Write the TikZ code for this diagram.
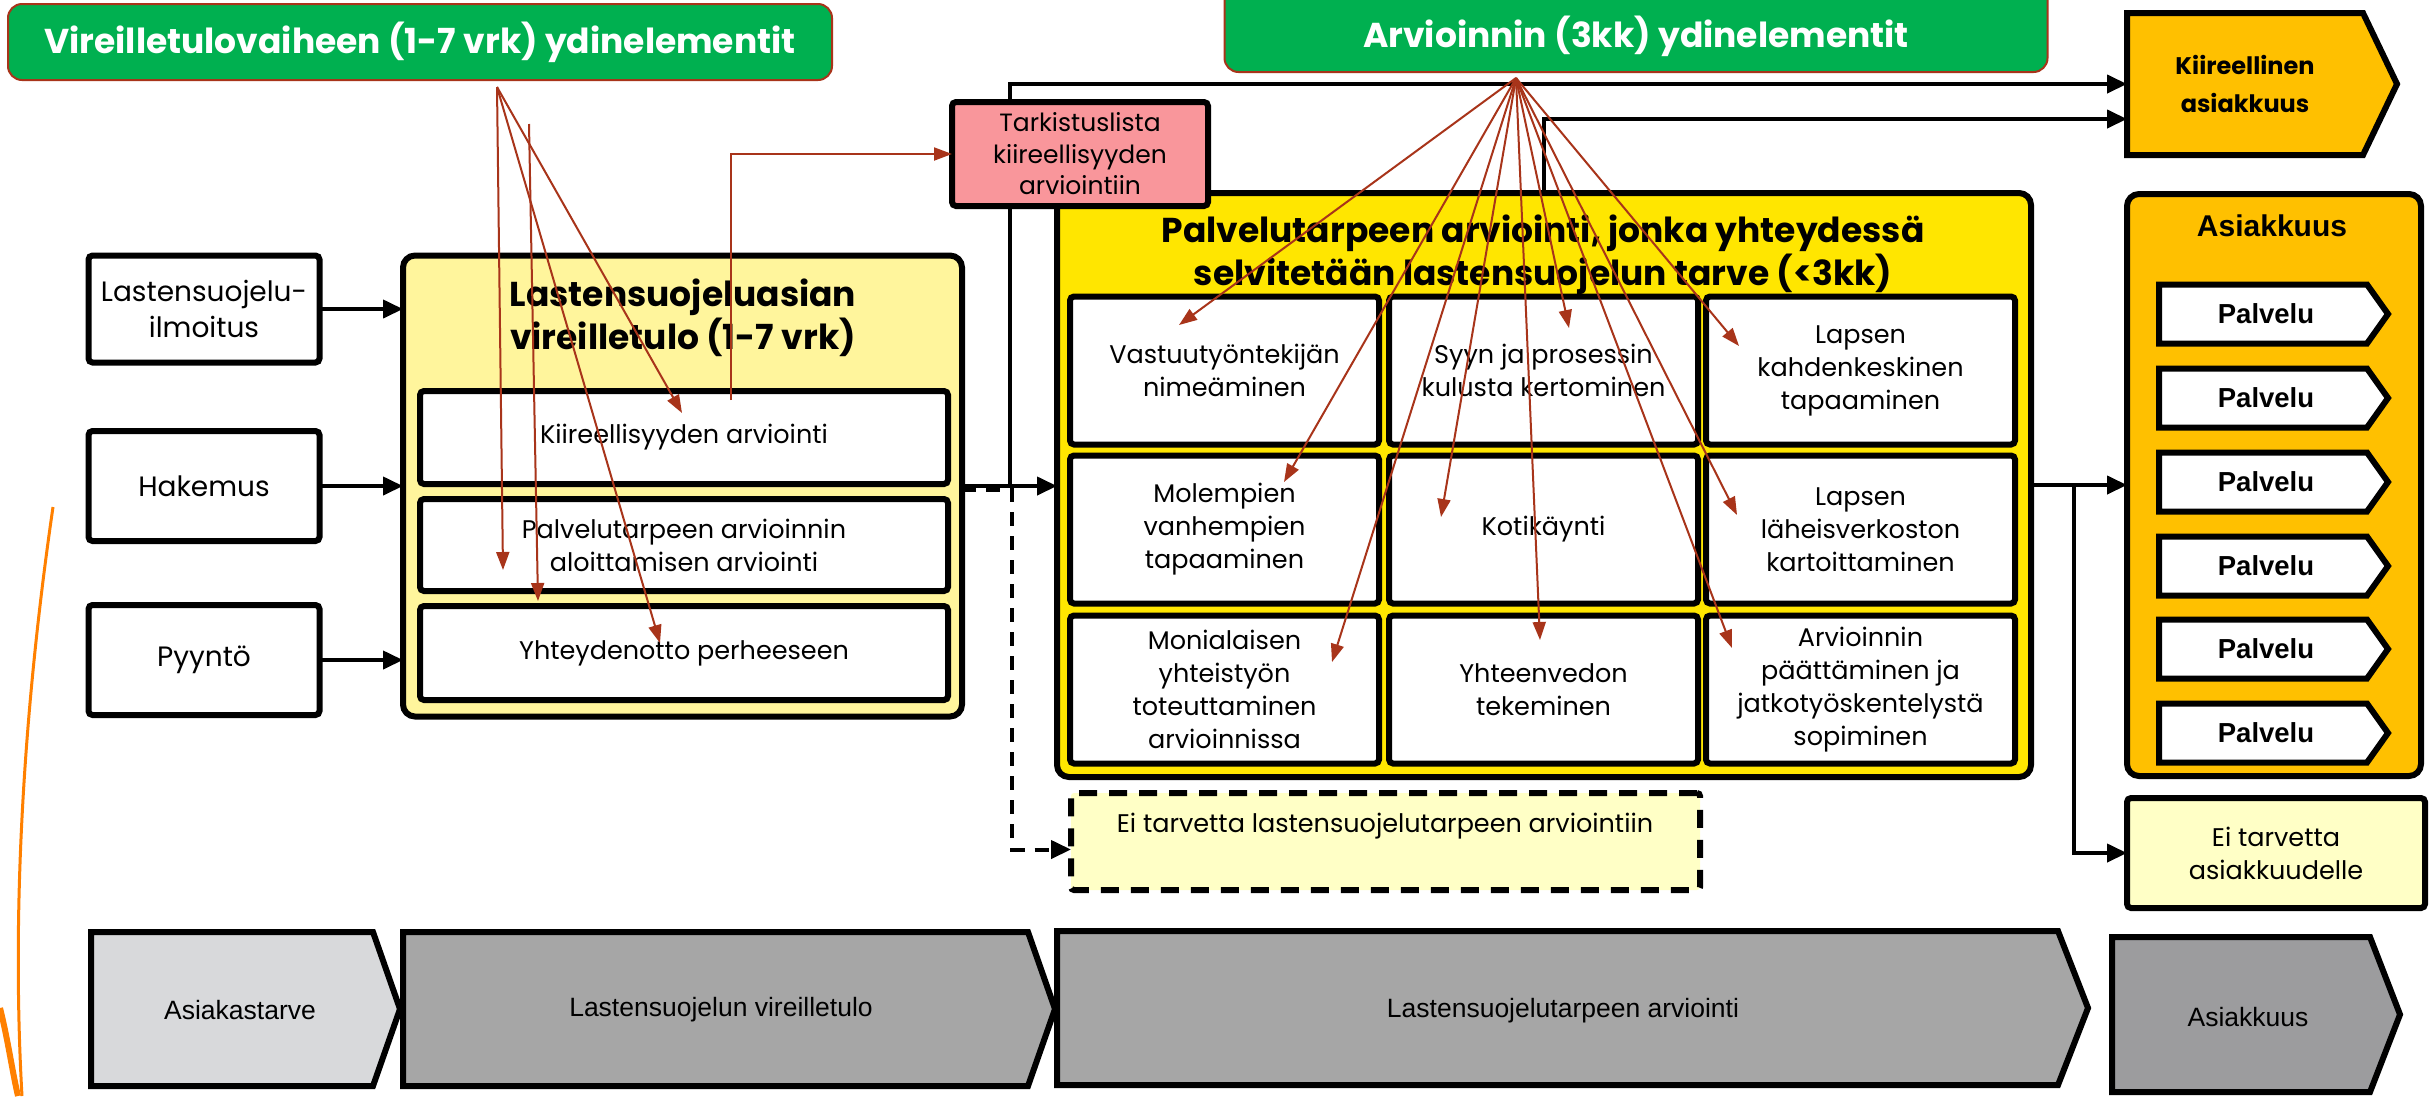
\documentclass[tikz,border=0pt]{standalone}
\usepackage{fontspec}
\setmainfont{Poppins}
\newfontfamily\arialf{Liberation Sans}
\usetikzlibrary{arrows.meta,calc}
\definecolor{grn}{HTML}{00B050}
\definecolor{redc}{RGB}{168,52,26}
\definecolor{pinkc}{HTML}{F9969B}
\definecolor{ltyel}{HTML}{FFF59C}
\definecolor{yel}{HTML}{FFE600}
\definecolor{orng}{HTML}{FFC000}
\definecolor{paleyel}{HTML}{FFFFC6}
\definecolor{gry1}{HTML}{D8D9DB}
\definecolor{gry2}{HTML}{A6A6A6}
\definecolor{gry3}{HTML}{9C9C9E}
\definecolor{orc}{HTML}{FF8000}
\pgfdeclarelayer{bg}\pgfdeclarelayer{fg}\pgfsetlayers{bg,main,fg}
\newcommand{\mypent}[6]{\filldraw[pent,fill=#1] (#2,#5) -- (#3,#5) -- (#4,{(#5+#6)/2}) -- (#3,#6) -- (#2,#6) -- cycle;}
\begin{document}
\begin{tikzpicture}[x=1pt,y=-1pt,
 every node/.style={inner sep=0pt,outer sep=0pt,align=center},
 rg/.style={font=\fontsize{25.5}{33}\selectfont},
 big/.style={font=\fontsize{28}{36}\selectfont},
 bt/.style={font=\fontsize{34.5}{43}\selectfont\bfseries},
 ar/.style={font=\arialf\fontsize{26.5}{30}\selectfont},
 pv/.style={font=\arialf\fontsize{27.5}{30}\selectfont\bfseries},
 bx/.style={draw=black,line width=6pt,rounded corners=4pt,rg},
 hdr/.style={draw=redc,line width=2pt,fill=grn,rounded corners=14pt},
 hdrtxt/.style={text=white,font=\fontsize{34.5}{40}\selectfont\bfseries},
 conn/.style={draw=black,line width=4pt,-{Triangle[length=20pt,width=18pt]}},
 dconn/.style={conn,dash pattern=on 14pt off 10pt},
 rarr/.style={draw=redc,line width=2pt,-{Triangle[length=18pt,width=13pt]}},
 pent/.style={draw=black,line width=6pt,line join=miter},
 cell/.style={bx,fill=white,minimum width=309pt,minimum height=148pt},
]
\useasboundingbox (0,0) rectangle (2432,1096);
\begin{pgfonlayer}{bg}
\fill[white] (0,0) rectangle (2432,1096);
\end{pgfonlayer}

% headers
\node[hdr,minimum width=824pt,minimum height=76pt] (hA) at (420,42) {};
\node[hdrtxt] (hAt) at (420,42) {Vireilletulovaiheen (1-7 vrk) ydinelementit};
\node[hdr,minimum width=823pt,minimum height=96pt] (hB) at (1636,24) {};
\node[hdrtxt] (hBt) at (1636,36) {Arvioinnin (3kk) ydinelementit};

% inputs
\node[bx,big,fill=white,minimum width=231pt,minimum height=107pt] (in1) at (204,309) {Lastensuojelu-\\ilmoitus};
\node[bx,big,fill=white,minimum width=231pt,minimum height=110pt] (in2) at (204,486) {Hakemus};
\node[bx,big,fill=white,minimum width=231pt,minimum height=110pt] (in3) at (204,660) {Pyyntö};

% vireilletulo
\node[bx,fill=ltyel,rounded corners=12pt,minimum width=559pt,minimum height=461pt] (vir) at (682.5,486) {};
\node[bt] (virT) at (683,318) {Lastensuojeluasian\\vireilletulo (1-7 vrk)};
\node[bx,fill=white,minimum width=528pt,minimum height=93pt] (v1) at (684,437.5) {Kiireellisyyden arviointi};
\node[bx,fill=white,minimum width=528pt,minimum height=92pt] (v2) at (684,545) {Palvelutarpeen arvioinnin\\aloittamisen arviointi};
\node[bx,fill=white,minimum width=528pt,minimum height=94pt] (v3) at (684,653) {Yhteydenotto perheeseen};

% assessment
\node[bx,fill=yel,rounded corners=12pt,minimum width=974pt,minimum height=584pt] (pal) at (1544,485) {};
\node[bt] (palT) at (1543,255) {Palvelutarpeen arviointi, jonka yhteydessä\\selvitetään lastensuojelun tarve (<3kk)};
\node[cell] (c11) at (1224.5,370.5) {Vastuutyöntekijän\\nimeäminen};
\node[cell] (c12) at (1543.5,370.5) {Syyn ja prosessin\\kulusta kertominen};
\node[cell] (c13) at (1860.5,370.5) {Lapsen\\kahdenkeskinen\\tapaaminen};
\node[cell] (c21) at (1224.5,529.5) {Molempien\\vanhempien\\tapaaminen};
\node[cell] (c22) at (1543.5,529.5) {Kotikäynti};
\node[cell] (c23) at (1860.5,529.5) {Lapsen\\läheisverkoston\\kartoittaminen};
\node[cell] (c31) at (1224.5,689.5) {Monialaisen\\yhteistyön\\toteuttaminen\\arvioinnissa};
\node[cell] (c32) at (1543.5,689.5) {Yhteenvedon\\tekeminen};
\node[cell] (c33) at (1860.5,689.5) {Arvioinnin\\päättäminen ja\\jatkotyöskentelystä\\sopiminen};

% checklist (on top of the assessment box)
\node[bx,fill=pinkc,minimum width=256pt,minimum height=104pt,font=\fontsize{25}{31.5}\selectfont] (tark) at (1080,154) {Tarkistuslista\\kiireellisyyden\\arviointiin};

% no need dashed box
\node[bx,fill=paleyel,dash pattern=on 18pt off 12pt,rounded corners=3pt,minimum width=629pt,minimum height=97pt] (nolsp) at (1385.5,841.5) {};
\node[rg] (nolspt) at (1385,826) {Ei tarvetta lastensuojelutarpeen arviointiin};

% right column
\mypent{orng}{2127}{2363}{2397}{13}{155}
\node[font=\fontsize{24}{38}\selectfont\bfseries,minimum width=236pt,minimum height=142pt] (kii) at (2245,84) {Kiireellinen\\asiakkuus};
\node[bx,fill=orng,rounded corners=12pt,minimum width=294pt,minimum height=582pt] (asi) at (2274,485) {};
\node[font=\arialf\fontsize{30}{36}\selectfont\bfseries] (asiT) at (2272,226) {Asiakkuus};
\foreach \i/\yy in {1/314,2/398,3/482,4/566,5/649,6/733}{
  \mypent{white}{2159}{2367}{2388}{\yy-29.5}{\yy+29.5}
  \node[pv] (pv\i) at (2266,\yy) {Palvelu};
}
\node[bx,fill=paleyel,minimum width=298pt,minimum height=110pt] (eia) at (2276,853) {Ei tarvetta\\asiakkuudelle};

% bottom phases
\mypent{gry1}{91}{373}{400}{932}{1086}
\node[ar] (b1) at (240,1010) {Asiakastarve};
\mypent{gry2}{403}{1028}{1055}{932}{1086}
\node[ar] (b2) at (721,1010) {Lastensuojelun vireilletulo};
\mypent{gry2}{1057}{2058}{2088}{931}{1085}
\node[ar] (b3) at (1563,1011) {Lastensuojelutarpeen arviointi};
\mypent{gry3}{2112}{2370}{2400}{937}{1092}
\node[ar] (b4) at (2248,1017) {Asiakkuus};

% black connectors
\begin{pgfonlayer}{bg}
\draw[conn] (in1.east) -- (in1.east -| vir.west);
\draw[conn] (in2.east) -- (in2.east -| vir.west);
\draw[conn] (in3.east) -- (in3.east -| vir.west);
\draw[conn] (vir.east) -- (vir.east -| pal.west);
\coordinate (j1) at (1010,486);
\draw[conn] (j1) |- (kii.west);
\draw[conn] (pal.north) |- ($(kii.west)+(0,35)$);
\coordinate (dj) at (1012,490);
\draw[dconn] ($(vir.east)+(0,4)$) -- (dj) |- ($(nolsp.west)+(0,8)$);
\draw[conn] (pal.east) -- (pal.east -| asi.west);
\coordinate (j3) at (2074,485);
\draw[conn] (j3) |- (eia.west);
\draw[orc,line width=3pt] (53,507) .. controls (22,720) and (12,920) .. (22,1096);
\draw[orc,line width=6pt] (0,1008) .. controls (8,1040) and (12,1070) .. (18,1096);
\end{pgfonlayer}

% red arrows
\begin{pgfonlayer}{fg}
\coordinate (sA) at (497,87);
\coordinate (sA2) at (529,124);
\coordinate (tA1) at (503,570);
\coordinate (tA2) at (538,601);
\coordinate (tA3) at (660,643);
\coordinate (tA4) at (682,413);
\coordinate (rk) at (731,400);
\draw[rarr] (sA) -- (tA1);
\draw[rarr] (sA2) -- (tA2);
\draw[rarr] (sA) -- (tA3);
\draw[rarr] (sA) -- (tA4);
\draw[rarr] (rk) |- (tark.west);
\coordinate (sB) at (1516,78);
\foreach \n/\p in {1/{1179,325},2/{1284,482},3/{1332,662},4/{1441,517},5/{1569,328},6/{1540,640},7/{1739,346},8/{1737,515},9/{1732,648}}{
  \coordinate (tB\n) at (\p);
  \draw[rarr] (sB) -- (tB\n);
}
\end{pgfonlayer}
\end{tikzpicture}
\end{document}
